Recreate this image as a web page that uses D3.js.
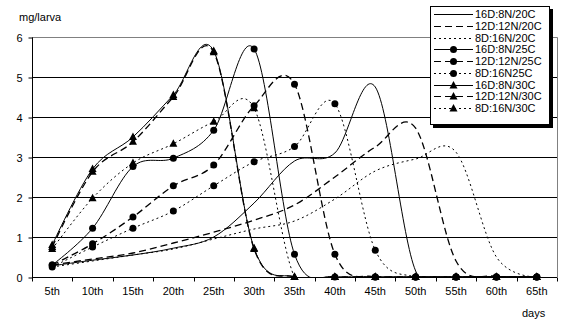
<!DOCTYPE html>
<html><head><meta charset="utf-8">
<script src="https://cdn.jsdelivr.net/npm/d3@7"></script>
<style>body{margin:0;background:#fff}svg{display:block}text{font-family:"Liberation Sans",Arial,sans-serif;font-size:11px;fill:#000}</style>
</head><body><svg id="c" width="576" height="335"></svg>
<script>
const categories = ["5th","10th","15th","20th","25th","30th","35th","40th","45th","50th","55th","60th","65th"];
const yTicks = [0,1,2,3,4,5,6];
const seriesNames = ["16D:8N/20C","12D:12N/20C","8D:16N/20C","16D:8N/25C","12D:12N/25C","8D:16N25C","16D:8N/30C","12D:12N/30C","8D:16N/30C"];
const s16_20 = [0.28,0.42,0.55,0.72,1.0,1.85,2.9,3.1,4.75,0.15,0,0,0];
const s12_20 = [0.3,0.45,0.6,0.85,1.12,1.42,1.8,2.5,3.25,3.72,0.4,0.02,0];
const s8_20  = [0.25,0.4,0.55,0.7,0.95,1.2,1.4,1.95,2.65,2.95,3.12,0.5,0];
const s16_25 = [0.3,1.22,2.76,2.97,3.67,5.7,0.57,0,0,0,0,0,0];
const s12_25 = [0.3,0.83,1.5,2.28,2.8,4.28,4.82,0.57,0,0,0,0,0];
const s8_25  = [0.25,0.75,1.22,1.65,2.28,2.88,3.26,4.33,0.67,0,0,0,0];
const s16_30 = [0.8,2.7,3.5,4.55,5.65,0.72,0,0,0,0,0,0,0];
const s12_30 = [0.75,2.63,3.38,4.5,5.62,0.7,0,0,0,0,0,0,0];
const s8_30  = [0.7,1.97,2.85,3.33,3.88,4.22,0,0,0,0,0,0,0];
const seriesValues = [s16_20,s12_20,s8_20,s16_25,s12_25,s8_25,s16_30,s12_30,s8_30];
const dashes = ["none","7,4","2,3","none","7,4","2,3","none","7,4","2,3"];
const markers = [null,null,null,"circle","circle","circle","triangle","triangle","triangle"];

const svg = d3.select("#c");
const L=32,R=557,T=37,B=277;
const x = d3.scaleBand().domain(categories).range([L,R]);
const y = d3.scaleLinear().domain([0,6]).range([B,T]);

svg.append("g").selectAll("line").data(yTicks.filter(d=>d>0&&d<6)).join("line")
  .attr("x1",L).attr("x2",R).attr("y1",d=>y(d)+0.5).attr("y2",d=>y(d)+0.5)
  .attr("stroke","#000").attr("stroke-width",1);
svg.append("path").attr("d",`M${L},${T+0.5}H${R+0.5}V${B}`).attr("fill","none").attr("stroke","#808080");

const yAxis = d3.axisLeft(y).tickValues(yTicks).tickSize(4).tickPadding(6).tickFormat(d3.format("d"));
const gy = svg.append("g").attr("transform",`translate(${L+0.5},0.5)`).call(yAxis);
const xAxis = d3.axisBottom(x).tickSize(0).tickPadding(10);
const gx = svg.append("g").attr("transform",`translate(0,${B+0.5})`).call(xAxis);
const bounds = d3.range(categories.length+1).map(i=>L + i*x.step());
gx.selectAll("line.bt").data(bounds).join("line").attr("class","bt")
  .attr("x1",d=>Math.round(d)+0.5).attr("x2",d=>Math.round(d)+0.5).attr("y1",0).attr("y2",4).attr("stroke","#000");
[gx,gy].forEach(g=>{g.select(".domain").attr("stroke","#000");g.selectAll("text").style("font-size","11px").style("font-family","Liberation Sans, Arial, sans-serif");});
gx.select(".domain").attr("d",`M${L},0H${R}`);
gy.select(".domain").attr("d",`M0,${T}V${B}`);

svg.append("text").attr("x",19).attr("y",21).text("mg/larva");
svg.append("text").attr("x",522).attr("y",317).text("days");

svg.append("clipPath").attr("id","pc").append("rect").attr("x",L).attr("y",T-10).attr("width",R-L).attr("height",B-T+11);

const line = d3.line().x((d,i)=>x(categories[i])+x.bandwidth()/2).y(d=>y(d)).curve(d3.curveCatmullRom.alpha(0));
const gs = svg.append("g").attr("clip-path","url(#pc)");
const triPath = "M0,-4.5L4,3L-4,3Z";
function drawMarker(g,type,cx,cy){
  if(type==="circle") g.append("circle").attr("cx",cx).attr("cy",cy).attr("r",3.5).attr("fill","#000");
  else if(type==="triangle") g.append("path").attr("d",triPath).attr("transform",`translate(${cx},${cy})`).attr("fill","#000");
}
seriesValues.forEach((vals,k)=>{
  gs.append("path").attr("d",line(vals)).attr("fill","none").attr("stroke","#000")
    .attr("stroke-width",dashes[k]==="7,4"?1.3:1).attr("stroke-dasharray",dashes[k]==="none"?null:dashes[k]);
});
const gm = svg.append("g");
seriesValues.forEach((vals,k)=>{
  if(!markers[k]) return;
  vals.forEach((v,i)=>drawMarker(gm,markers[k],x(categories[i])+x.bandwidth()/2,y(v)));
});

const lg = svg.append("g");
lg.append("rect").attr("x",433).attr("y",9).attr("width",120).attr("height",119).attr("fill","#000");
lg.append("rect").attr("x",430.5).attr("y",6.5).attr("width",119).attr("height",118).attr("fill","#fff").attr("stroke","#000");
seriesNames.forEach((n,k)=>{
  const yy = 14 + k*11.75;
  lg.append("line").attr("x1",434).attr("x2",473).attr("y1",Math.round(yy)+0.5).attr("y2",Math.round(yy)+0.5)
    .attr("stroke","#000").attr("stroke-dasharray",dashes[k]==="none"?null:dashes[k]);
  if(markers[k]) drawMarker(lg,markers[k],453.5,Math.round(yy)+0.5);
  lg.append("text").attr("x",475).attr("y",yy+4).text(n);
});
</script></body></html>
